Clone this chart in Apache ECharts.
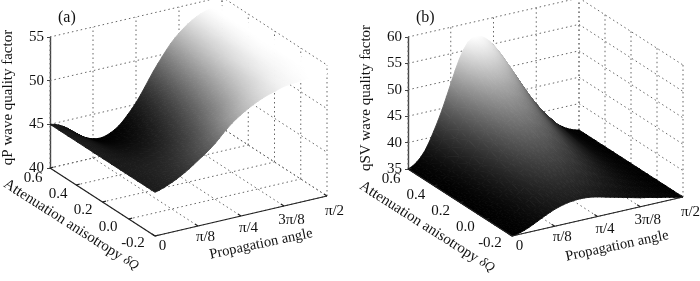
<!DOCTYPE html>
<html><head><meta charset="utf-8">
<style>html,body{margin:0;padding:0;background:#fff}#c{width:700px;height:281px}</style>
<script src="https://cdn.jsdelivr.net/npm/echarts@6/dist/echarts.min.js"></script>
</head><body><div id="c"></div>
<script>
// Data. Each row: wave quality factor at one delta, from theta=0 to pi/2 in steps of pi/40.
const deltaRows = [0.6, 0.4, 0.2, 0.0, -0.2];
const deltaTicks = [0.6, 0.4, 0.2, 0.0, -0.2];
const deltaLabels = ['0.6', '0.4', '0.2', '0.0', '-0.2'];
const thetaTicks = [0, 0.125, 0.25, 0.375, 0.5]; // in units of pi
const thetaLabels = ['0', 'π/8', 'π/4', '3π/8', 'π/2'];
const zTicksA = [40, 45, 50, 55];
const zTicksB = [35, 40, 45, 50, 55, 60];

const qP_06  = [45.0,44.7,44.1,43.2,42.6,42.2,42.1,42.4,43.0,44.0,45.2,46.7,48.3,49.7,51.0,52.0,52.8,53.4,53.8,54.0,54.0];
const qP_04  = [45.0,44.8,44.4,43.9,43.6,43.5,43.6,44.0,44.7,45.7,46.8,48.1,49.4,50.6,51.6,52.4,53.0,53.5,53.8,54.0,54.0];
const qP_02  = [45.0,44.9,44.7,44.6,44.6,44.8,45.1,45.7,46.5,47.4,48.4,49.5,50.5,51.4,52.2,52.9,53.3,53.7,53.9,54.0,54.0];
const qP_00  = [45.0,45.1,45.3,45.5,45.8,46.2,46.8,47.4,48.2,49.2,50.0,50.8,51.6,52.3,52.8,53.3,53.6,53.8,53.9,54.0,54.0];
const qP_m02 = [45.0,45.3,45.7,46.2,46.8,47.5,48.2,49.0,50.0,50.9,51.6,52.2,52.7,53.1,53.4,53.7,53.8,53.9,54.0,54.0,54.0];

const qSV_06  = [35.0,35.9,37.8,41.0,44.8,49.3,53.6,56.4,57.2,56.5,54.8,52.4,49.4,46.4,43.8,41.5,39.5,37.7,36.4,35.5,35.0];
const qSV_04  = [35.0,35.7,37.2,39.5,42.3,45.6,48.6,50.5,51.1,50.6,49.4,47.6,45.5,43.4,41.5,39.9,38.5,37.1,36.2,35.4,35.0];
const qSV_02  = [35.0,35.5,36.7,38.4,40.4,42.6,44.6,45.9,46.3,46.0,45.1,43.9,42.5,41.0,39.8,38.6,37.6,36.7,36.0,35.4,35.0];
const qSV_00  = [35.0,35.4,36.2,37.5,38.8,40.2,41.3,42.1,42.3,42.1,41.5,40.8,39.9,39.1,38.3,37.5,36.9,36.3,35.8,35.3,35.0];
const qSV_m02 = [35.0,35.3,35.9,36.7,37.5,38.2,38.7,39.0,39.1,39.0,38.7,38.3,37.9,37.5,37.1,36.7,36.4,36.0,35.7,35.3,35.0];

const SERIF = '"Liberation Serif","Times New Roman",serif';
const FS = 15;
const SUB_THETA = 2, SUB_DELTA = 3; // smooth shading steps per table cell

const panels = [
  {id:'a', rows:[qP_06,qP_04,qP_02,qP_00,qP_m02], zTicks:zTicksA, zMin:40, zMax:55,
   left:50, top:37, width:277, height:131, du:[105,68], dv:[172,-40],
   cLo:41.8, cHi:54, gamma:1.7, zName:'qP wave quality factor',
   attAt:[71,225], propAt:[261,244]},
  {id:'b', rows:[qSV_06,qSV_04,qSV_02,qSV_00,qSV_m02], zTicks:zTicksB, zMin:35, zMax:60,
   left:408, top:37, width:275, height:132, du:[104,67], dv:[171,-39],
   cLo:35, cHi:57.2, gamma:1.3, zName:'qSV wave quality factor',
   attAt:[427,227], propAt:[617,246]}
];

function projector(p, api){
  return function(u, v, z){
    const X = (p.du[0]*u + p.dv[0]*v) / p.width;
    const zEq = z - (p.du[1]*u + p.dv[1]*v) * (p.zMax-p.zMin) / p.height;
    return api.coord([X, zEq]);
  };
}
const uOf = d => (0.6-d)/0.8;
const vOf = t => t/0.5;

function cr(a,b,c,d,t){
  return 0.5*(2*b+(c-a)*t+(2*a-5*b+4*c-d)*t*t+(3*b-a-3*c+d)*t*t*t);
}
function zAt(rows, s, t){
  const nR=rows.length, nC=rows[0].length;
  const i=Math.min(Math.floor(s),nR-2), j=Math.min(Math.floor(t),nC-2), fs=s-i, ft=t-j;
  const col=r=>{
    const R=rows[Math.max(0,Math.min(nR-1,r))];
    const g=k=>R[Math.max(0,Math.min(nC-1,k))];
    return cr(g(j-1),g(j),g(j+1),g(j+2),ft);
  };
  return cr(col(i-1),col(i),col(i+1),col(i+2),fs);
}

function grayStops(p, zA, zB){
  const stops = [];
  for (let i=0;i<=4;i++){
    const t=i/4, z=zA+(zB-zA)*t;
    const s=Math.max(0,Math.min(1,(z-p.cLo)/(p.cHi-p.cLo)));
    const g=Math.round(255*Math.pow(s,p.gamma));
    stops.push({offset:t,color:'rgb('+g+','+g+','+g+')'});
  }
  return stops;
}

function triFill(p, P, Z){
  const x1=P[1][0]-P[0][0], y1=P[1][1]-P[0][1], x2=P[2][0]-P[0][0], y2=P[2][1]-P[0][1];
  const dz1=Z[1]-Z[0], dz2=Z[2]-Z[0], det=x1*y2-x2*y1;
  const lo=Math.min(Z[0],Z[1],Z[2]), hi=Math.max(Z[0],Z[1],Z[2]);
  if (Math.abs(det)<1e-3 || hi-lo<1e-6){ return grayStops(p,(lo+hi)/2,(lo+hi)/2)[0].color; }
  const gx=(dz1*y2-dz2*y1)/det, gy=(x1*dz2-x2*dz1)/det, g2=gx*gx+gy*gy;
  const i=Z.indexOf(lo), k=(hi-lo)/g2;
  return new echarts.graphic.LinearGradient(P[i][0],P[i][1],P[i][0]+gx*k,P[i][1]+gy*k,grayStops(p,lo,hi),true);
}

function surfaceSeries(p, idx){
  const data=[];
  const nV=(p.rows[0].length-1)*SUB_THETA, nU=(p.rows.length-1)*SUB_DELTA;
  for (let i=0;i<nU;i++) for (let j=nV-1;j>=0;j--){
    data.push([i,j,0]); data.push([i,j,1]);
  }
  return {type:'custom', xAxisIndex:idx, yAxisIndex:idx, z:5, silent:true, animation:false, clip:false,
    encode:{x:-1,y:-1}, data, progressive:0,
    renderItem(params, api){
      const i=api.value(0), j=api.value(1), t=api.value(2);
      const prj=projector(p,api);
      const nV=(p.rows[0].length-1)*SUB_THETA, nU=(p.rows.length-1)*SUB_DELTA;
      const corner=[[i,j],[i,j+1],[i+1,j+1],[i+1,j]];
      const ids=t===0?[0,1,2]:[0,2,3];
      const Z=ids.map(n=>zAt(p.rows,corner[n][0]/SUB_DELTA,corner[n][1]/SUB_THETA));
      const P=ids.map((n,k)=>prj(corner[n][0]/nU,corner[n][1]/nV,Z[k]));
      const f=triFill(p,P,Z);
      return {type:'polygon',shape:{points:P},style:{fill:f,stroke:f,lineWidth:0.9,lineJoin:'round'}};
    }
  };
}

function gridSeries(p, idx){
  const L=[], lo=p.zMin, hi=p.zMax;
  p.zTicks.forEach(z=>{L.push([0,0,z,0,1,z]);L.push([0,1,z,1,1,z]);});
  thetaTicks.forEach(t=>{const v=vOf(t);L.push([0,v,lo,0,v,hi]);L.push([0,v,lo,1,v,lo]);});
  deltaTicks.forEach(d=>{const u=uOf(d);L.push([u,1,lo,u,1,hi]);L.push([u,0,lo,u,1,lo]);});
  return {type:'custom', xAxisIndex:idx, yAxisIndex:idx, z:2, silent:true, animation:false, clip:false,
    encode:{x:-1,y:-1}, data:L,
    renderItem(params, api){
      const prj=projector(p,api);
      const a=prj(api.value(0),api.value(1),api.value(2)), b=prj(api.value(3),api.value(4),api.value(5));
      return {type:'line',shape:{x1:a[0],y1:a[1],x2:b[0],y2:b[1]},style:{stroke:'#666',lineWidth:1,lineDash:[1.5,3]}};
    }
  };
}

function axisSeries(p, idx){
  const lo=p.zMin, L=[[0,0,lo,1,0,lo],[1,0,lo,1,1,lo]];
  deltaTicks.forEach(d=>{const u=uOf(d);L.push([u,0,lo,u,0.02,lo]);});
  thetaTicks.forEach(t=>{const v=vOf(t);L.push([1,v,lo,0.97,v,lo]);});
  return {type:'custom', xAxisIndex:idx, yAxisIndex:idx, z:6, silent:true, animation:false, clip:false,
    encode:{x:-1,y:-1}, data:L,
    renderItem(params, api){
      const prj=projector(p,api);
      const a=prj(api.value(0),api.value(1),api.value(2)), b=prj(api.value(3),api.value(4),api.value(5));
      return {type:'line',shape:{x1:a[0],y1:a[1],x2:b[0],y2:b[1]},style:{stroke:'#222',lineWidth:1.2}};
    }
  };
}

function labelSeries(p, idx){
  const items=[];
  deltaTicks.forEach((d,i)=>items.push([0,i]));
  thetaTicks.forEach((t,i)=>items.push([1,i]));
  return {type:'custom', xAxisIndex:idx, yAxisIndex:idx, z:7, silent:true, animation:false, clip:false,
    encode:{x:-1,y:-1}, data:items,
    renderItem(params, api){
      const prj=projector(p,api), kind=api.value(0), n=api.value(1);
      if (kind===0){
        const u=uOf(deltaTicks[n]), a=prj(u,0,p.zMin);
        return {type:'text',x:a[0]-17-5*u,y:a[1]+10-3*u,style:{text:deltaLabels[n],fill:'#111',font:FS+'px '+SERIF,align:'center',verticalAlign:'middle'}};
      }
      const v=vOf(thetaTicks[n]), a=prj(1,v,p.zMin);
      return {type:'text',x:a[0]+7.5,y:a[1]+10+5*v,style:{text:thetaLabels[n],fill:'#111',font:FS+'px '+SERIF,align:'center',verticalAlign:'middle'}};
    }
  };
}

function textGraphics(){
  const out=[];
  panels.forEach(p=>{
    out.push({type:'text',x:p.attAt[0],y:p.attAt[1],rotation:-32.5*Math.PI/180,z:10,silent:true,
      style:{text:'{t|Attenuation anisotropy }{s|δQ}',align:'center',verticalAlign:'middle',
        rich:{t:{font:'15px '+SERIF,fill:'#111'},s:{font:'italic 13px '+SERIF,fill:'#111'}}}});
    out.push({type:'text',x:p.propAt[0],y:p.propAt[1],rotation:12*Math.PI/180,z:10,silent:true,
      style:{text:'Propagation angle',align:'center',verticalAlign:'middle',font:'14.5px '+SERIF,fill:'#111'}});
  });
  return out;
}

const chart=echarts.init(document.getElementById('c'),null,{renderer:'canvas'});
chart.setOption({
  animation:false, backgroundColor:'#fff',
  title:[
    {text:'(a)',left:53,top:5,textStyle:{fontFamily:SERIF,fontWeight:'normal',fontSize:16,color:'#111'}},
    {text:'(b)',left:411,top:5,textStyle:{fontFamily:SERIF,fontWeight:'normal',fontSize:16,color:'#111'}}
  ],
  grid:panels.map(p=>({left:p.left,top:p.top,width:p.width,height:p.height,containLabel:false,outerBoundsMode:'none',show:false})),
  xAxis:panels.map((p,i)=>({type:'value',gridIndex:i,min:0,max:1,show:false})),
  yAxis:panels.map((p,i)=>({type:'value',gridIndex:i,min:p.zMin,max:p.zMax,interval:5,position:'left',
    name:p.zName,nameLocation:'middle',nameGap:34,nameRotate:90,nameMoveOverlap:false,
    nameTextStyle:{fontFamily:SERIF,fontSize:15,color:'#111',padding:[0,0,0,10]},
    axisLine:{show:true,onZero:false,lineStyle:{color:'#444',width:1.4}},
    axisTick:{show:true,length:3,inside:false,lineStyle:{color:'#444'}},
    axisLabel:{fontFamily:SERIF,fontSize:FS,color:'#111',margin:6,padding:[0,0,4,0]},
    splitLine:{show:false}})),
  graphic:{elements:textGraphics()},
  series:panels.flatMap((p,i)=>[gridSeries(p,i),surfaceSeries(p,i),axisSeries(p,i),labelSeries(p,i)])
});
</script></body></html>
